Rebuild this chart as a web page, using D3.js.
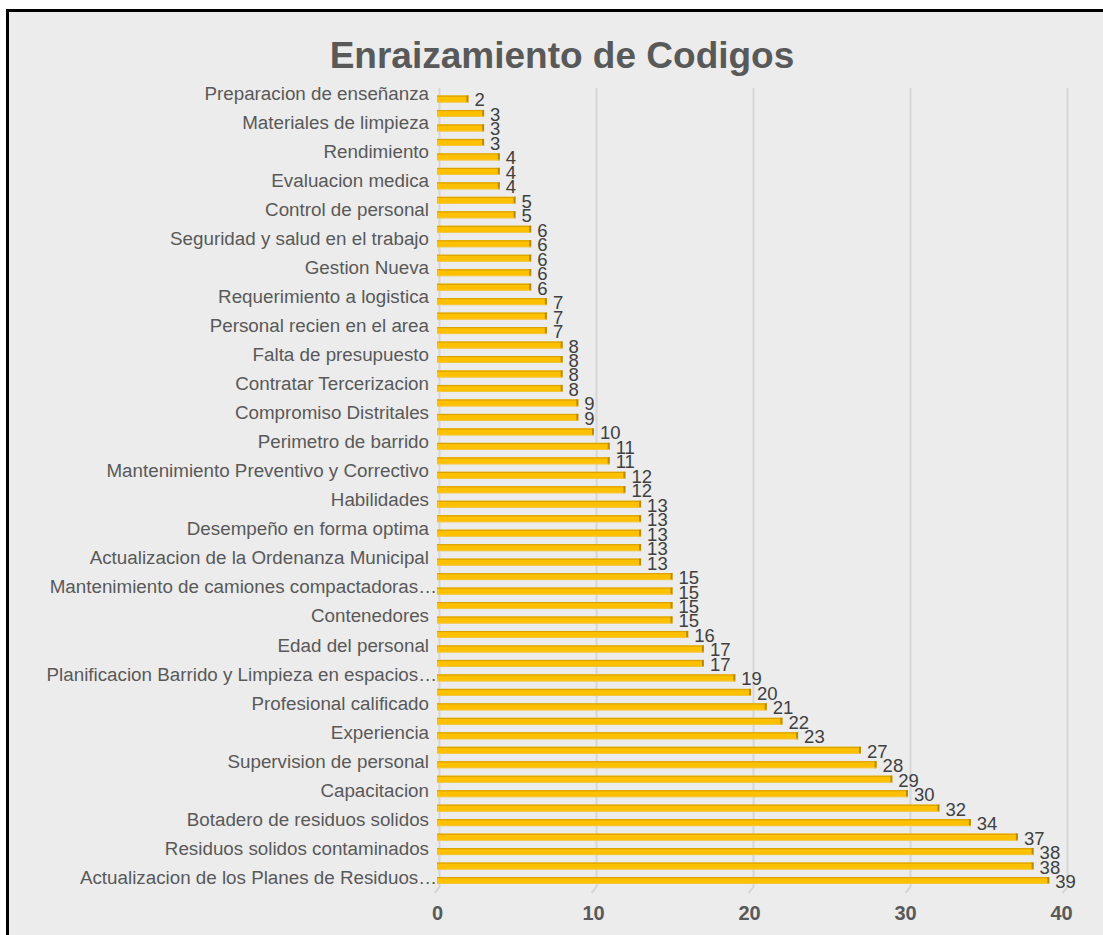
<!DOCTYPE html>
<html>
<head>
<meta charset="utf-8">
<script src="https://cdn.jsdelivr.net/npm/d3@7"></script>
<style>
  body { margin: 0; background: #ffffff; }
  text { font-family: "Liberation Sans", Arial, sans-serif; }
</style>
</head>
<body>
<script>
'use strict';

// bar values, top to bottom
const values = [2, 3, 3, 3, 4, 4, 4, 5, 5, 6, 6, 6, 6, 6, 7, 7, 7, 8, 8, 8, 8, 9, 9,
  10, 11, 11, 12, 12, 13, 13, 13, 13, 13, 15, 15, 15, 15, 16, 17, 17, 19, 20, 21,
  22, 23, 27, 28, 29, 30, 32, 34, 37, 38, 38, 39];

// category names; the chart only prints every second one
const categories = [
  "Preparacion de enseñanza", "", "Materiales de limpieza", "", "Rendimiento", "",
  "Evaluacion medica", "", "Control de personal", "", "Seguridad y salud en el trabajo", "",
  "Gestion Nueva", "", "Requerimiento a logistica", "", "Personal recien en el area", "",
  "Falta de presupuesto", "", "Contratar Tercerizacion", "", "Compromiso Distritales", "",
  "Perimetro de barrido", "", "Mantenimiento Preventivo y Correctivo", "", "Habilidades", "",
  "Desempeño en forma optima", "", "Actualizacion de la Ordenanza Municipal", "",
  "Mantenimiento de camiones compactadoras…", "", "Contenedores", "", "Edad del personal", "",
  "Planificacion Barrido y Limpieza en espacios…", "", "Profesional calificado", "",
  "Experiencia", "", "Supervision de personal", "", "Capacitacion", "",
  "Botadero de residuos solidos", "", "Residuos solidos contaminados", "",
  "Actualizacion de los Planes de Residuos…"
];

const xTicks = [0, 10, 20, 30, 40];
const title = "Enraizamiento de Codigos";

const width = 1103, height = 935;

let svg = d3.select('body').append('svg')
  .attr('width', width)
  .attr('height', height);

// chart frame
svg.append('rect')
  .attr('x', 7.5).attr('y', 10.5)
  .attr('width', width).attr('height', height)
  .attr('fill', '#ececec')
  .attr('stroke', '#000')
  .attr('stroke-width', 3);

let xScale = d3.scaleLinear().domain([0, 40]).range([437, 1065]);
let yScale = d3.scalePoint().domain(d3.range(values.length)).range([99, 880.5]);

// gridlines on the back wall, with a little floor bend at the bottom
let grid = svg.append('g');
xTicks.forEach(function(v) {
  let gx = xScale(v) + 2.5;
  grid.append('path')
    .attr('d', 'M' + gx + ',88 L' + gx + ',887 L' + (gx - 5) + ',893')
    .attr('fill', 'none')
    .attr('stroke', '#d6d6d6')
    .attr('stroke-width', 2);
});

// bars
let bars = svg.append('g').selectAll('g')
  .data(values)
  .enter()
  .append('g')
  .attr('transform', (d, i) => 'translate(0,' + (yScale(i) - 3.5) + ')');

bars.append('rect')
  .attr('x', xScale(0))
  .attr('width', d => xScale(d) - xScale(0))
  .attr('height', 7)
  .attr('fill', '#ffc000');

bars.append('rect')
  .attr('x', xScale(0))
  .attr('width', d => xScale(d) - xScale(0))
  .attr('height', 1.2)
  .attr('fill', '#d9a200');

bars.append('rect')
  .attr('x', d => xScale(d) - 2)
  .attr('width', 2)
  .attr('height', 7)
  .attr('fill', '#b98c00');

bars.append('rect')
  .attr('x', xScale(0))
  .attr('y', 6.2)
  .attr('width', d => xScale(d) - xScale(0))
  .attr('height', 0.8)
  .attr('fill', '#f2c74a');

// data labels
svg.append('g').selectAll('text')
  .data(values)
  .enter()
  .append('text')
  .attr('x', d => xScale(d) + 6)
  .attr('y', (d, i) => yScale(i) + 1)
  .attr('dy', '0.35em')
  .attr('fill', '#404040')
  .style('font-size', '18.5px')
  .text(d => d);

// category axis
let yAxis = d3.axisLeft(yScale)
  .tickValues(d3.range(0, values.length, 2))
  .tickFormat(i => categories[i])
  .tickSize(0)
  .tickPadding(0);

svg.append('g')
  .attr('transform', 'translate(429,0)')
  .call(yAxis)
  .call(g => g.select('.domain').remove())
  .selectAll('text')
  // truncated names spill a little past the others
  .attr('dx', i => categories[i].endsWith('…') ? 8 : 0)
  .attr('dy', i => (0.32 * 18.8 - 6 + 3 * i / values.length) + 'px')
  .attr('fill', '#595959')
  .style('font-size', '18.8px')
  .style('font-family', '"Liberation Sans", Arial, sans-serif');

// value axis
let xAxis = d3.axisBottom(xScale)
  .tickValues(xTicks)
  .tickSize(0)
  .tickPadding(0);

svg.append('g')
  .attr('transform', 'translate(0,906)')
  .call(xAxis)
  .call(g => g.select('.domain').remove())
  .selectAll('text')
  .attr('dx', d => -d * 0.1)
  .attr('fill', '#595959')
  .style('font-size', '20px')
  .style('font-weight', 'bold')
  .style('font-family', '"Liberation Sans", Arial, sans-serif');

// title
svg.append('text')
  .attr('x', 562)
  .attr('y', 68)
  .attr('text-anchor', 'middle')
  .attr('fill', '#595959')
  .style('font-size', '37px')
  .style('font-weight', 'bold')
  .text(title);
</script>
</body>
</html>
